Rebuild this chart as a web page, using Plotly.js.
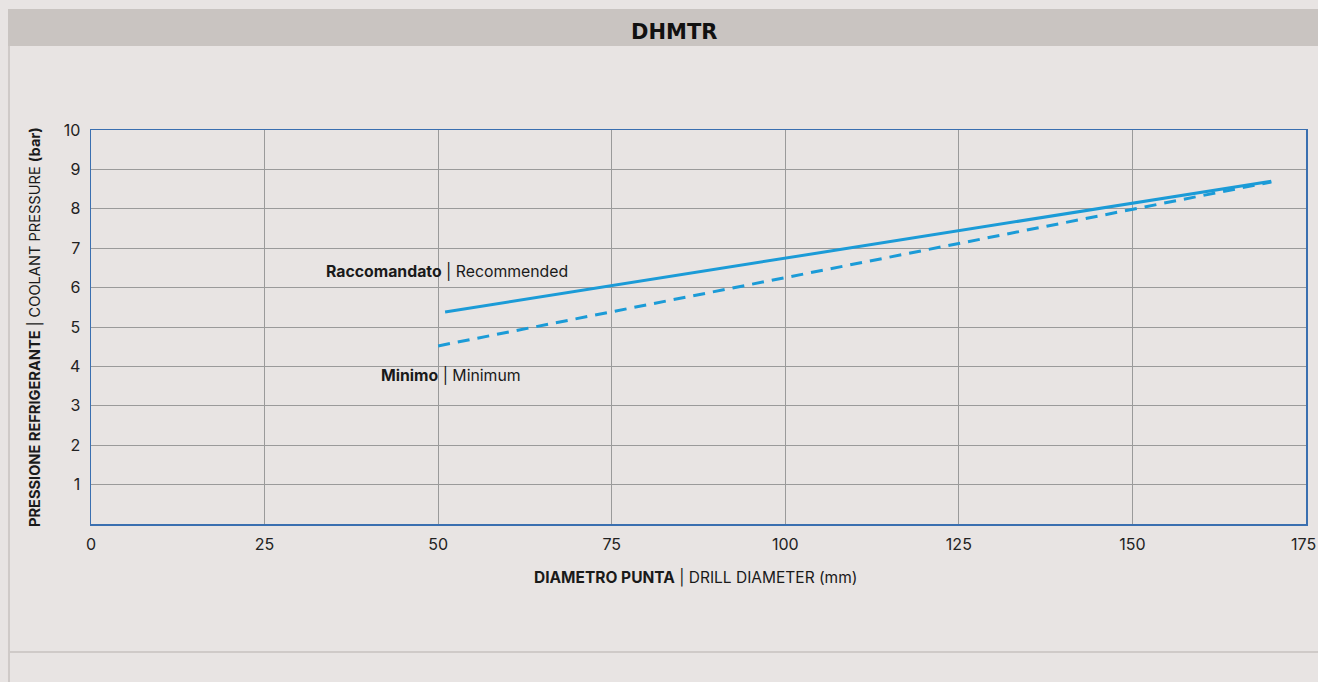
<!DOCTYPE html>
<html>
<head>
<meta charset="utf-8">
<script src="https://cdn.plot.ly/plotly-3.0.1.min.js"></script>
<style>
html,body{margin:0;padding:0;background:#e8e4e3;}
#chart{width:1318px;height:682px;}
</style>
</head>
<body>
<div id="chart"></div>
<script>
// Data
const recommendedX = [51, 170];
const recommendedY = [5.38, 8.7];
const minimumX = [50, 170];
const minimumY = [4.52, 8.68];
const xTicks = [0, 25, 50, 75, 100, 125, 150, 175];
const yTicks = [1, 2, 3, 4, 5, 6, 7, 8, 9, 10];
const chartTitle = 'DHMTR';
const xTitle = '<b>DIAMETRO PUNTA</b> | DRILL DIAMETER (mm)';
const yTitle = '<b>PRESSIONE REFRIGERANTE</b> | COOLANT PRESSURE <b>(bar)</b>';
const labelRecommended = '<b>Raccomandato</b> | Recommended';
const labelMinimum = '<b>Minimo</b> | Minimum';

const FONT = 'Inter, "Noto Sans", sans-serif';
const BLUE = '#1b9bd7';
const AXIS = '#3a6fb0';

// The last x label sits at the page edge: it is drawn as an annotation anchored at its tick
const lastX = xTicks[xTicks.length - 1];
const xTickText = xTicks.map((v, i) => i === xTicks.length - 1 ? '' : String(v));

const traces = [
  {x: recommendedX, y: recommendedY, mode: 'lines', type: 'scatter',
   line: {color: BLUE, width: 3}, hoverinfo: 'skip', showlegend: false},
  {x: minimumX, y: minimumY, mode: 'lines', type: 'scatter',
   line: {color: BLUE, width: 3, dash: '12px,8px'}, hoverinfo: 'skip', showlegend: false}
];

const layout = {
  width: 1318, height: 682,
  paper_bgcolor: '#e8e4e3', plot_bgcolor: '#e8e4e3',
  margin: {l: 91, r: 12, t: 130, b: 158, pad: 0},
  font: {family: FONT, color: '#1a1a1a'},
  xaxis: {
    range: [0, 175], tickvals: xTicks, ticktext: xTickText,
    showgrid: true, gridcolor: '#9a9a9a', gridwidth: 1,
    zeroline: false, showline: true, linecolor: AXIS, linewidth: 1.5, mirror: true,
    ticks: 'outside', ticklen: 5, tickcolor: 'rgba(0,0,0,0)',
    tickfont: {size: 16, color: '#222', family: FONT}, fixedrange: true
  },
  yaxis: {
    range: [0, 10], tickvals: yTicks, ticktext: yTicks.map(String),
    showgrid: true, gridcolor: '#9a9a9a', gridwidth: 1,
    zeroline: false, showline: true, linecolor: AXIS, linewidth: 1.5, mirror: true,
    ticks: 'outside', ticklen: 6, tickcolor: 'rgba(0,0,0,0)',
    ticklabeloverflow: 'allow',
    tickfont: {size: 16, color: '#222', family: FONT}, fixedrange: true
  },
  shapes: [
    // header band
    {type: 'rect', xref: 'paper', yref: 'paper', x0: -0.0683, x1: 1.02, y0: 1.2132, y1: 1.3071,
     fillcolor: '#c9c4c1', line: {width: 0}, layer: 'below'},
    // left frame line
    {type: 'line', xref: 'paper', yref: 'paper', x0: -0.0675, x1: -0.0675, y0: 1.2132, y1: -0.41,
     line: {color: '#cfcac8', width: 2}},
    // bottom separator
    {type: 'line', xref: 'paper', yref: 'paper', x0: -0.0683, x1: 1.02, y0: -0.325, y1: -0.325,
     line: {color: '#cfcac8', width: 2}}
  ],
  annotations: [
    {text: '<b>' + chartTitle + '</b>', xref: 'paper', yref: 'paper', x: 0.4802, y: 1.2475,
     xanchor: 'center', yanchor: 'middle', showarrow: false,
     font: {size: 21, family: '"DejaVu Sans", sans-serif', color: '#111'}},
    {text: String(lastX), xref: 'x', yref: 'y', x: lastX, y: 0,
     xanchor: 'right', yanchor: 'middle', xshift: 11, yshift: -20, showarrow: false,
     borderpad: 0, font: {size: 16, family: FONT, color: '#222'}},
    {text: xTitle, xref: 'paper', yref: 'paper', x: 0.4979, y: -0.135,
     xanchor: 'center', yanchor: 'middle', showarrow: false,
     font: {size: 15.5, family: FONT, color: '#1a1a1a'}},
    {text: yTitle, xref: 'paper', yref: 'paper', x: -0.0461, y: 0.5,
     xanchor: 'center', yanchor: 'middle', textangle: -90, showarrow: false,
     font: {size: 14.6, family: FONT, color: '#1a1a1a'}},
    {text: labelRecommended, xref: 'x', yref: 'y', x: 33.56, y: 6.4,
     xanchor: 'left', yanchor: 'middle', showarrow: false,
     font: {size: 15.8, family: FONT, color: '#1a1a1a'}},
    {text: labelMinimum, xref: 'x', yref: 'y', x: 41.5, y: 3.76,
     xanchor: 'left', yanchor: 'middle', showarrow: false,
     font: {size: 15.8, family: FONT, color: '#1a1a1a'}}
  ]
};

Plotly.newPlot('chart', traces, layout, {displayModeBar: false, staticPlot: true});
</script>
</body>
</html>
